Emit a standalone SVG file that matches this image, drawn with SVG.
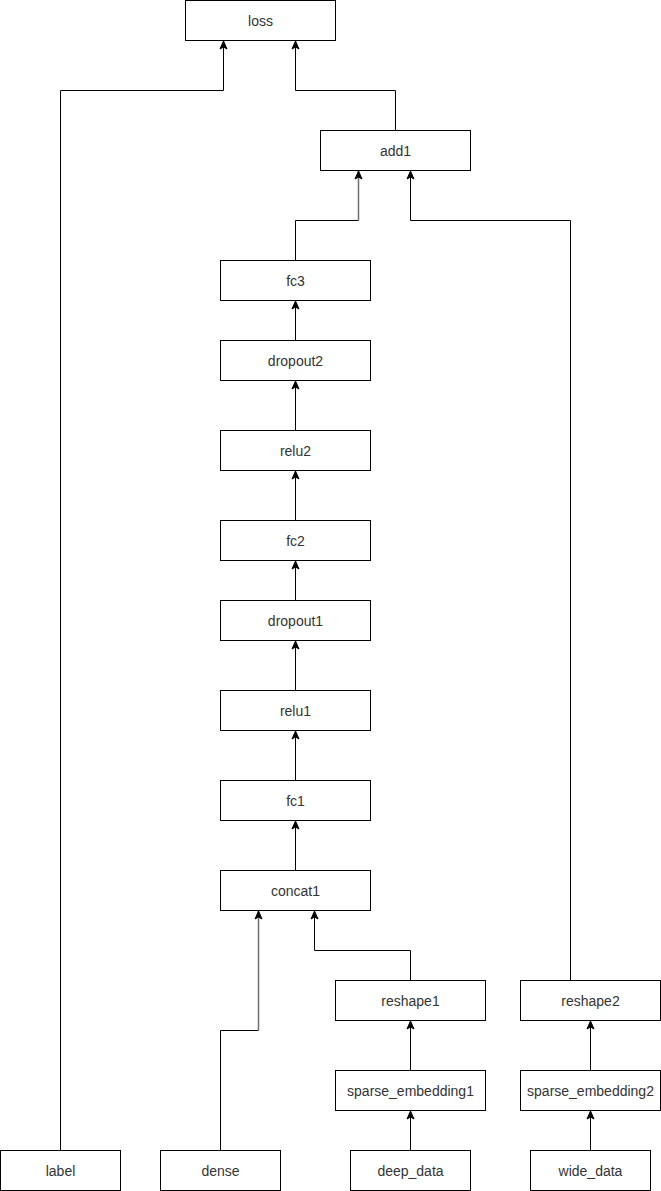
<svg xmlns="http://www.w3.org/2000/svg" width="661" height="1191" viewBox="0 0 661 1191">
<style>
.n rect{fill:#fff;stroke:#000;stroke-width:1}
.n text{font-family:"Liberation Sans",Arial,sans-serif;font-size:14px;fill:#333;text-anchor:middle;dominant-baseline:central}
.e path{fill:none;stroke:#000;stroke-width:1}
.e path.g{stroke:#6e6e6e;stroke-width:1.5}
</style>
<defs>
<marker id="a" markerUnits="userSpaceOnUse" viewBox="-9 -5 10 10" refX="0" refY="0" markerWidth="10" markerHeight="10" orient="auto">
<path d="M0,0 L-8,-3.5 L-6,0 L-8,3.5 z" fill="#000" stroke="#000" stroke-width="1"/>
</marker>
</defs>
<rect width="661" height="1191" fill="#fff"/>
<g class="e" id="connectors">
<path d="M60.5,1150.5 V90.5 H223.5 V41" marker-end="url(#a)"/>
<path d="M395.5,130.5 V90.5 H295.5 V41" marker-end="url(#a)"/>
<path d="M295.5,260.5 V220.5 H358.5"/>
<path class="g" d="M358.5,220.5 V171" marker-end="url(#a)"/>
<path d="M570.5,980.5 V220.5 H410.5 V171" marker-end="url(#a)"/>
<path d="M295.5,340.5 V301" marker-end="url(#a)"/>
<path d="M295.5,430.5 V381" marker-end="url(#a)"/>
<path d="M295.5,520.5 V471" marker-end="url(#a)"/>
<path d="M295.5,600.5 V561" marker-end="url(#a)"/>
<path d="M295.5,690.5 V641" marker-end="url(#a)"/>
<path d="M295.5,780.5 V731" marker-end="url(#a)"/>
<path d="M295.5,870.5 V821" marker-end="url(#a)"/>
<path d="M220.5,1150.5 V1030.5 H258.5"/>
<path class="g" d="M258.5,1030.5 V911" marker-end="url(#a)"/>
<path d="M410.5,980.5 V950.5 H314.5 V911" marker-end="url(#a)"/>
<path d="M410.5,1070.5 V1021" marker-end="url(#a)"/>
<path d="M410.5,1150.5 V1111" marker-end="url(#a)"/>
<path d="M590.5,1070.5 V1021" marker-end="url(#a)"/>
<path d="M590.5,1150.5 V1111" marker-end="url(#a)"/>
</g>
<g class="n" id="loss"><rect x="185.5" y="0.5" width="150" height="40"/><text x="260.5" y="20.5">loss</text></g>
<g class="n" id="add1"><rect x="320.5" y="130.5" width="150" height="40"/><text x="395.5" y="150.5">add1</text></g>
<g class="n" id="fc3"><rect x="220.5" y="260.5" width="150" height="40"/><text x="295.5" y="280.5">fc3</text></g>
<g class="n" id="dropout2"><rect x="220.5" y="340.5" width="150" height="40"/><text x="295.5" y="360.5">dropout2</text></g>
<g class="n" id="relu2"><rect x="220.5" y="430.5" width="150" height="40"/><text x="295.5" y="450.5">relu2</text></g>
<g class="n" id="fc2"><rect x="220.5" y="520.5" width="150" height="40"/><text x="295.5" y="540.5">fc2</text></g>
<g class="n" id="dropout1"><rect x="220.5" y="600.5" width="150" height="40"/><text x="295.5" y="620.5">dropout1</text></g>
<g class="n" id="relu1"><rect x="220.5" y="690.5" width="150" height="40"/><text x="295.5" y="710.5">relu1</text></g>
<g class="n" id="fc1"><rect x="220.5" y="780.5" width="150" height="40"/><text x="295.5" y="800.5">fc1</text></g>
<g class="n" id="concat1"><rect x="220.5" y="870.5" width="150" height="40"/><text x="295.5" y="890.5">concat1</text></g>
<g class="n" id="reshape1"><rect x="335.5" y="980.5" width="150" height="40"/><text x="410.5" y="1000.5">reshape1</text></g>
<g class="n" id="reshape2"><rect x="520.5" y="980.5" width="140" height="40"/><text x="590.5" y="1000.5">reshape2</text></g>
<g class="n" id="sparse_embedding1"><rect x="335.5" y="1070.5" width="150" height="40"/><text x="410.5" y="1090.5">sparse_embedding1</text></g>
<g class="n" id="sparse_embedding2"><rect x="520.5" y="1070.5" width="140" height="40"/><text x="590.5" y="1090.5">sparse_embedding2</text></g>
<g class="n" id="label"><rect x="0.5" y="1150.5" width="120" height="40"/><text x="60.5" y="1170.5">label</text></g>
<g class="n" id="dense"><rect x="160.5" y="1150.5" width="120" height="40"/><text x="220.5" y="1170.5">dense</text></g>
<g class="n" id="deep_data"><rect x="350.5" y="1150.5" width="120" height="40"/><text x="410.5" y="1170.5">deep_data</text></g>
<g class="n" id="wide_data"><rect x="530.5" y="1150.5" width="120" height="40"/><text x="590.5" y="1170.5">wide_data</text></g>
</svg>
